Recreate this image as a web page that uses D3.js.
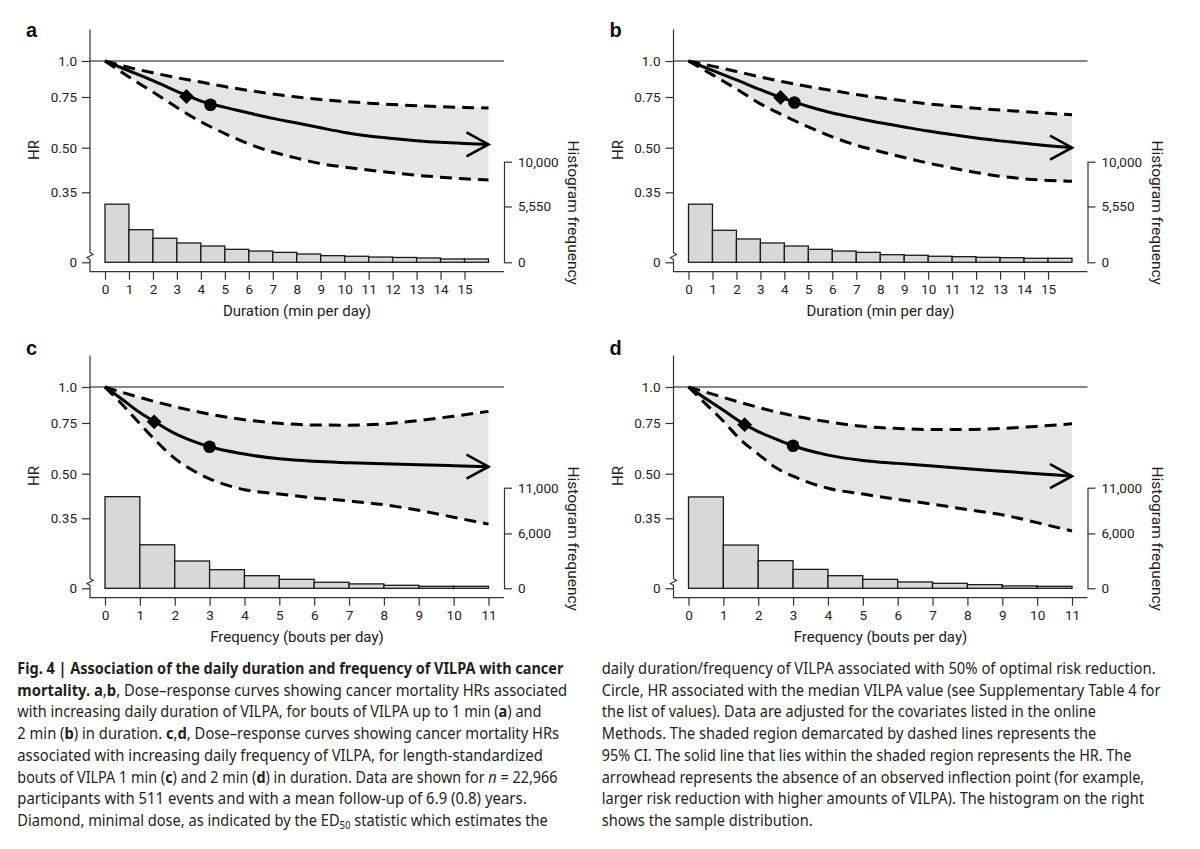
<!DOCTYPE html>
<html>
<head>
<meta charset="utf-8">
<script src="https://cdn.jsdelivr.net/npm/d3@7"></script>
<style>
  html, body { margin: 0; padding: 0; background: #fff; }
  svg { display: block; }
  .tick text { font-family: Roboto, "Noto Sans", sans-serif; font-size: 13.5px; fill: #222; }
  .tick line { stroke: #333; stroke-width: 1.2; }
  .domain { stroke: #333; stroke-width: 1.2; }
</style>
</head>
<body>
<svg id="chart" width="1200" height="849"></svg>
<script>
// ---------------- DATA ----------------
const hrTicks = [1.0, 0.75, 0.5, 0.35];
const hrTickLabels = ["1.0", "0.75", "0.50", "0.35"];

// Panel a: duration, bouts up to 1 min
const xA = [0,1,2,3,4,5,6,7,8,9,10,11,12,13,14,15,16];
const hrA    = [1.0,0.925,0.855,0.785,0.726,0.69,0.66,0.632,0.609,0.586,0.565,0.549,0.538,0.529,0.522,0.517,0.513];
const upperA = [1.0,0.95,0.91,0.875,0.845,0.815,0.79,0.768,0.75,0.735,0.723,0.714,0.706,0.699,0.694,0.69,0.687];
const lowerA = [1.0,0.88,0.78,0.69,0.615,0.56,0.515,0.483,0.46,0.44,0.428,0.418,0.409,0.401,0.395,0.39,0.386];
const diamondA = [3.4, 0.753];
const circleA = [4.4, 0.705];
const histA = [5780,3240,2390,1920,1620,1290,1120,990,825,660,600,525,480,430,330,330];

// Panel b: duration, bouts up to 2 min
const xB = [0,1,2,3,4,5,6,7,8,9,10,11,12,13,14,15,16];
const hrB    = [1.0,0.927,0.86,0.795,0.74,0.695,0.66,0.634,0.61,0.59,0.571,0.555,0.54,0.528,0.518,0.508,0.50];
const upperB = [1.0,0.96,0.92,0.88,0.845,0.815,0.79,0.765,0.745,0.727,0.71,0.697,0.685,0.676,0.667,0.658,0.651];
const lowerB = [1.0,0.895,0.80,0.71,0.645,0.59,0.545,0.51,0.485,0.462,0.442,0.425,0.41,0.398,0.39,0.385,0.382];
const diamondB = [3.84, 0.747];
const circleB = [4.42, 0.718];
const histB = [5780,3180,2320,1920,1620,1290,1120,990,755,700,600,560,495,460,400,400];

// Panel c: frequency, 1-min bouts
const xC = [0,0.5,1,1.5,2,2.5,3,4,5,6,7,8,9,10,11];
const hrC    = [1.0,0.905,0.815,0.748,0.69,0.65,0.62,0.585,0.563,0.552,0.546,0.541,0.537,0.533,0.529];
const upperC = [1.0,0.958,0.92,0.885,0.855,0.828,0.805,0.77,0.748,0.738,0.737,0.745,0.765,0.792,0.823];
const lowerC = [1.0,0.868,0.745,0.643,0.565,0.515,0.48,0.44,0.425,0.412,0.402,0.39,0.373,0.353,0.334];
const diamondC = [1.41, 0.757];
const circleC = [3.0, 0.62];
const histC = [10020,4760,2985,2035,1380,980,655,480,330,220,220];

// Panel d: frequency, 2-min bouts
const xD = [0,0.5,1,1.5,2,2.5,3,4,5,6,7,8,9,10,11];
const hrD    = [1.0,0.91,0.83,0.755,0.70,0.66,0.625,0.58,0.556,0.543,0.532,0.52,0.51,0.50,0.49];
const upperD = [1.0,0.96,0.92,0.883,0.85,0.82,0.795,0.757,0.73,0.718,0.712,0.712,0.718,0.73,0.745];
const lowerD = [1.0,0.872,0.76,0.655,0.585,0.525,0.49,0.445,0.425,0.407,0.392,0.375,0.36,0.338,0.316];
const diamondD = [1.61, 0.74];
const circleD = [3.0, 0.625];
const histD = [9990,4730,3020,2070,1380,980,695,545,400,260,220];

const durationTicks = [0,1,2,3,4,5,6,7,8,9,10,11,12,13,14,15];
const frequencyTicks = [0,1,2,3,4,5,6,7,8,9,10,11];
const histTicksAB = [0, 5550, 10000];
const histTicksCD = [0, 6000, 11000];

const panels = [
  {label:"a", ox:0,     oy:0,   labelY:36.5, xMax:16, xs:xA, hr:hrA, up:upperA, lo:lowerA, dia:diamondA, cir:circleA, hist:histA, xTicks:durationTicks, hTicks:histTicksAB, hMax:10000, xTitle:"Duration (min per day)"},
  {label:"b", ox:583.5, oy:0,   labelY:36.5, xMax:16, xs:xB, hr:hrB, up:upperB, lo:lowerB, dia:diamondB, cir:circleB, hist:histB, xTicks:durationTicks, hTicks:histTicksAB, hMax:10000, xTitle:"Duration (min per day)"},
  {label:"c", ox:0,     oy:326, labelY:29,   xMax:11, xs:xC, hr:hrC, up:upperC, lo:lowerC, dia:diamondC, cir:circleC, hist:histC, xTicks:frequencyTicks, hTicks:histTicksCD, hMax:11000, xTitle:"Frequency (bouts per day)"},
  {label:"d", ox:583.5, oy:326, labelY:29,   xMax:11, xs:xD, hr:hrD, up:upperD, lo:lowerD, dia:diamondD, cir:circleD, hist:histD, xTicks:frequencyTicks, hTicks:histTicksCD, hMax:11000, xTitle:"Frequency (bouts per day)"}
];

// ---------------- DRAW ----------------
const svg = d3.select("#chart");
const AX = 90, RX = 504, BOT = 271.7, YTOP = 29.5;
const font = 'Roboto, "Noto Sans", sans-serif';

panels.forEach(p => {
  const g = svg.append("g").attr("transform", `translate(${p.ox},${p.oy})`);
  const x = d3.scaleLinear().domain([0, p.xMax]).range([105, 488.5]);
  const y = d3.scaleLog().domain([0.35, 1.0]).range([192.3, 61]);
  const h = d3.scaleLinear().domain([0, p.hMax]).range([262.3, 161.7]);

  // panel label
  g.append("text").attr("x", 26).attr("y", p.labelY).text(p.label)
    .attr("font-family", '"Liberation Sans", Arial, sans-serif').attr("font-weight", "bold")
    .attr("font-size", 20).attr("fill", "#111");

  // histogram bars
  g.append("g").selectAll("rect").data(p.hist).join("rect")
    .attr("x", (d,i) => x(i)).attr("width", (d,i) => x(i+1) - x(i))
    .attr("y", d => h(d)).attr("height", d => h(0) - h(d))
    .attr("fill", "#d8d8d8").attr("stroke", "#1a1a1a").attr("stroke-width", 1.3);

  const pts = p.xs.map((xv,i) => ({x:xv, hr:p.hr[i], up:p.up[i], lo:p.lo[i]}));

  // shaded CI
  g.append("path").datum(pts)
    .attr("d", d3.area().x(d => x(d.x)).y0(d => y(d.lo)).y1(d => y(d.up)).curve(d3.curveMonotoneX))
    .attr("fill", "#e5e5e5");

  // reference line at HR = 1
  g.append("line").attr("x1", AX).attr("x2", RX).attr("y1", y(1)).attr("y2", y(1))
    .attr("stroke", "#111").attr("stroke-width", 1.2);

  // dashed CI lines
  ["up","lo"].forEach(k => {
    g.append("path").datum(pts)
      .attr("d", d3.line().x(d => x(d.x)).y(d => y(d[k])).curve(d3.curveMonotoneX))
      .attr("fill", "none").attr("stroke", "#000").attr("stroke-width", 3)
      .attr("stroke-dasharray", "12,7");
  });

  // HR line
  g.append("path").datum(pts)
    .attr("d", d3.line().x(d => x(d.x)).y(d => y(d.hr)).curve(d3.curveMonotoneX))
    .attr("fill", "none").attr("stroke", "#000").attr("stroke-width", 3);

  // arrowhead
  const last = pts[pts.length-1];
  const tx = x(last.x), ty = y(last.hr);
  g.append("path").attr("d", `M${tx-22},${ty-12}L${tx},${ty}L${tx-22},${ty+12}`)
    .attr("fill", "none").attr("stroke", "#000").attr("stroke-width", 2.6);

  // diamond & circle
  g.append("path").attr("d", d3.symbol(d3.symbolSquare, 110)())
    .attr("transform", `translate(${x(p.dia[0])},${y(p.dia[1])}) rotate(45)`).attr("fill", "#000");
  g.append("circle").attr("cx", x(p.cir[0])).attr("cy", y(p.cir[1])).attr("r", 6.3).attr("fill", "#000");

  // left axis (HR)
  const la = g.append("g").attr("transform", `translate(${AX},0)`)
    .call(d3.axisLeft(y).tickValues(hrTicks).tickFormat((d,i) => hrTickLabels[i]).tickSize(8).tickPadding(5));
  la.select(".domain").remove();
  const lz = g.append("g").attr("transform", `translate(${AX},0)`)
    .call(d3.axisLeft(h).tickValues([0]).tickFormat(() => "0").tickSize(8).tickPadding(5));
  lz.select(".domain").remove();

  // left axis line with break, bottom line
  g.append("path")
    .attr("d", `M${AX},${YTOP}L${AX},252.5L${AX+3},254.5L${AX-3},257.5L${AX},259.5L${AX},${BOT}L${RX},${BOT}`)
    .attr("fill", "none").attr("stroke", "#333").attr("stroke-width", 1.2);

  // bottom axis ticks
  const ba = g.append("g").attr("transform", `translate(0,${BOT})`)
    .call(d3.axisBottom(x).tickValues(p.xTicks).tickSize(8).tickPadding(5));
  ba.select(".domain").remove();

  // right axis (histogram)
  g.append("g").attr("transform", `translate(${RX},0)`)
    .call(d3.axisRight(h).tickValues(p.hTicks).tickFormat(d3.format(",")).tickSize(8).tickSizeOuter(0).tickPadding(6));

  // titles
  g.append("text").attr("x", 297).attr("y", 316).attr("text-anchor", "middle")
    .attr("font-family", font).attr("font-size", 15).attr("fill", "#222").text(p.xTitle);
  g.append("text").attr("transform", "translate(39,150) rotate(-90)").attr("text-anchor", "middle")
    .attr("font-family", font).attr("font-size", 15).attr("fill", "#222").text("HR");
  g.append("text").attr("transform", "translate(568,212.7) rotate(90)").attr("text-anchor", "middle")
    .attr("font-family", font).attr("font-size", 15.5).attr("fill", "#222").text("Histogram frequency");
});

// ---------------- CAPTION ----------------
const capLeft = [
  [["Fig. 4 | Association of the daily duration and frequency of VILPA with cancer","b"]],
  [["mortality. a","b"],[",",""],["b","b"],[", Dose–response curves showing cancer mortality HRs associated",""]],
  [["with increasing daily duration of VILPA, for bouts of VILPA up to 1 min (",""],["a","b"],[") and",""]],
  [["2 min (",""],["b","b"],[") in duration. ",""],["c","b"],[",",""],["d","b"],[", Dose–response curves showing cancer mortality HRs",""]],
  [["associated with increasing daily frequency of VILPA, for length-standardized",""]],
  [["bouts of VILPA 1 min (",""],["c","b"],[") and 2 min (",""],["d","b"],[") in duration. Data are shown for ",""],["n","i"],[" = 22,966",""]],
  [["participants with 511 events and with a mean follow-up of 6.9 (0.8) years.",""]],
  [["Diamond, minimal dose, as indicated by the ED",""],["50","sub"],[" statistic which estimates the","after"]]
];
const capLeftEnds = [563.5,567.3,542.3,559.6,543.1,557.7,526.9,548.1];
const capRight = [
  [["daily duration/frequency of VILPA associated with 50% of optimal risk reduction.",""]],
  [["Circle, HR associated with the median VILPA value (see Supplementary Table 4 for",""]],
  [["the list of values). Data are adjusted for the covariates listed in the online",""]],
  [["Methods. The shaded region demarcated by dashed lines represents the",""]],
  [["95% CI. The solid line that lies within the shaded region represents the HR. The",""]],
  [["arrowhead represents the absence of an observed inflection point (for example,",""]],
  [["larger risk reduction with higher amounts of VILPA). The histogram on the right",""]],
  [["shows the sample distribution.",""]]
];
const capRightEnds = [1156.3,1161,1096.5,1096.5,1131.6,1144.6,1144.6,812.9];
const baselines = [674,695.7,717.4,739.1,760.8,782.5,804.2,825.9];

function caption(lines, x0, ends) {
  lines.forEach((segs, i) => {
    const t = svg.append("text").attr("font-family", '"Noto Sans", "Open Sans", sans-serif')
      .attr("font-size", 16).attr("fill", "#231f20");
    segs.forEach(([s, st]) => {
      const ts = t.append("tspan").text(s);
      if (st === "b") ts.attr("font-weight", "bold");
      if (st === "i") ts.attr("font-style", "italic");
      if (st === "sub") ts.attr("font-size", 10.5).attr("dy", 3);
      if (st === "after") ts.attr("dy", -3);
    });
    const w = t.node().getComputedTextLength();
    const target = ends[i] - x0;
    t.attr("transform", `translate(${x0},${baselines[i]}) scale(${target / w},1)`);
  });
}
caption(capLeft, 17.3, capLeftEnds);
caption(capRight, 601.7, capRightEnds);
</script>
</body>
</html>
